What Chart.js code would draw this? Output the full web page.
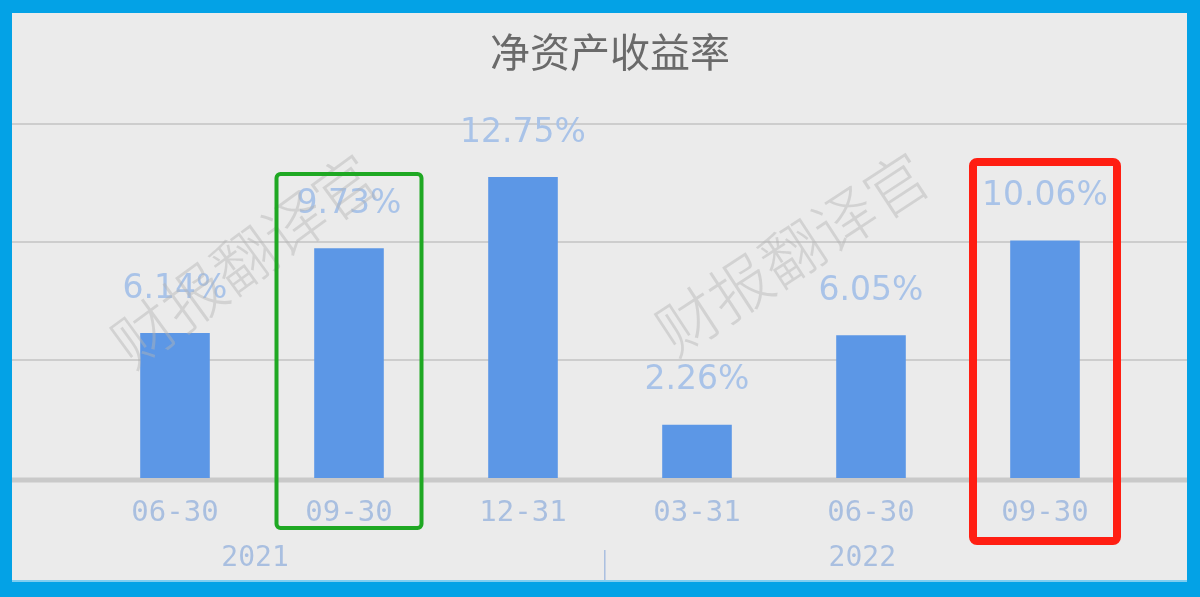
<!DOCTYPE html>
<html>
<head>
<meta charset="utf-8">
<script src="https://cdn.jsdelivr.net/npm/chart.js@4/dist/chart.umd.min.js"></script>
<style>
  html, body { margin: 0; padding: 0; }
  body { width: 1200px; height: 597px; background: #03a2e6; position: relative; overflow: hidden; }
  #wrap { position: absolute; left: 12px; top: 13px; width: 1175px; height: 567px; background: #ebebeb; }
  #bottomline { position: absolute; left: 12px; top: 580px; width: 1175px; height: 2px; background: #7fcdf0; }
</style>
</head>
<body>
<div id="wrap"><canvas id="c"></canvas></div>
<div id="bottomline"></div>
<script>
const titleText = '净资产收益率';
const categories = ['06-30', '09-30', '12-31', '03-31', '06-30', '09-30'];
const roeValues = [6.14, 9.73, 12.75, 2.26, 6.05, 10.06];
const valueLabels = ['6.14%', '9.73%', '12.75%', '2.26%', '6.05%', '10.06%'];
const yearLabels = ['2021', '2022'];
const yTicks = [0, 5, 10, 15];
const watermarkText = '财报翻译官';

const gridPlugin = {
  id: 'fullGrid',
  beforeDatasetsDraw(chart) {
    const { ctx, scales: { y } } = chart;
    ctx.save();
    yTicks.forEach(v => {
      const py = y.getPixelForValue(v);
      if (v === 0) {
        ctx.strokeStyle = '#c9c9c9';
        ctx.lineWidth = 5;
        ctx.beginPath(); ctx.moveTo(0, py + 2); ctx.lineTo(chart.width, py + 2); ctx.stroke();
      } else {
        ctx.strokeStyle = '#cdcdcd';
        ctx.lineWidth = 2;
        ctx.beginPath(); ctx.moveTo(0, py); ctx.lineTo(chart.width, py); ctx.stroke();
      }
    });
    ctx.restore();
  }
};

const labelPlugin = {
  id: 'decor',
  afterDatasetsDraw(chart) {
    const { ctx, chartArea, scales: { x } } = chart;
    const meta = chart.getDatasetMeta(0);
    ctx.save();
    // value labels
    ctx.font = '33px "DejaVu Sans"';
    ctx.fillStyle = '#a9c3e8';
    ctx.textAlign = 'center';
    ctx.textBaseline = 'middle';
    meta.data.forEach((bar, i) => {
      ctx.fillText(valueLabels[i], bar.x, bar.y - 44);
    });
    // title
    ctx.font = '40px "Noto Sans CJK SC"';
    ctx.fillStyle = '#6a6a6a';
    ctx.fillText(titleText, (chartArea.left + chartArea.right) / 2, 39);
    // year labels + separator
    ctx.font = '28px "DejaVu Sans Mono"';
    ctx.fillStyle = '#a9bfe0';
    const yearPos = [0.46, 3.95];
    yearLabels.forEach((t, i) => ctx.fillText(t, x.getPixelForValue(yearPos[i]), 546));
    const sx = x.getPixelForValue(2.47);
    ctx.strokeStyle = '#a9bfe0';
    ctx.lineWidth = 1.5;
    ctx.beginPath(); ctx.moveTo(sx, 537); ctx.lineTo(sx, 567); ctx.stroke();
    // watermarks
    ctx.font = '300 62px "Noto Sans CJK SC"';
    ctx.fillStyle = 'rgba(180,180,180,0.45)';
    [[232, 247, -0.63], [780, 240, -0.58]].forEach(([wx, wy, a]) => {
      ctx.save();
      ctx.translate(wx, wy);
      ctx.rotate(a);
      ctx.fillText(watermarkText, 0, 0);
      ctx.restore();
    });
    // highlight boxes
    const boxes = [
      { index: 1, color: '#1fa823', lw: 4, half: 74.5, top: 159, bottom: 517 },
      { index: 5, color: '#ff1e12', lw: 8, half: 76, top: 145, bottom: 532 }
    ];
    boxes.forEach(b => {
      const cx = x.getPixelForValue(b.index);
      ctx.strokeStyle = b.color;
      ctx.lineWidth = b.lw;
      ctx.lineJoin = 'round';
      const h = b.lw / 2;
      ctx.beginPath();
      ctx.roundRect(cx - b.half + h, b.top + h, 2 * (b.half - h), b.bottom - b.top - b.lw, 4);
      ctx.stroke();
    });
    ctx.restore();
  }
};

new Chart(document.getElementById('c'), {
  type: 'bar',
  data: {
    labels: categories,
    datasets: [{
      data: roeValues,
      backgroundColor: '#5c97e6',
      borderWidth: 0,
      categoryPercentage: 1,
      barPercentage: 0.4
    }]
  },
  options: {
    responsive: true,
    maintainAspectRatio: false,
    animation: false,
    devicePixelRatio: 1,
    layout: { padding: { left: 76, right: 55, top: 111, bottom: 0 } },
    plugins: { legend: { display: false }, tooltip: { enabled: false }, title: { display: false } },
    scales: {
      x: {
        grid: { display: false },
        border: { display: false },
        ticks: { font: { family: 'DejaVu Sans Mono', size: 29 }, color: '#a9bfe0', padding: 10, maxRotation: 0, autoSkip: false },
        afterFit(axis) { axis.height = 102; }
      },
      y: {
        display: false,
        min: 0,
        max: 15,
        ticks: { stepSize: 5 }
      }
    }
  },
  plugins: [gridPlugin, labelPlugin]
});
</script>
</body>
</html>
